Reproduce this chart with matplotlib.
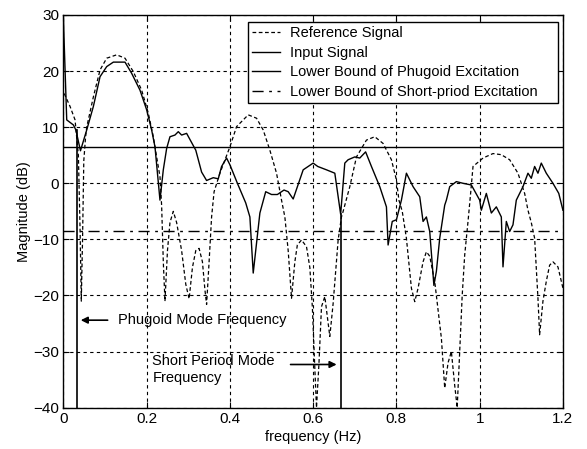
import matplotlib
matplotlib.use("Agg")
import matplotlib.pyplot as plt

# ---------------- data ----------------
ref_f = [0.002, 0.016, 0.028, 0.036, 0.040, 0.043, 0.046, 0.049, 0.053, 0.056,
         0.072, 0.088, 0.104, 0.128, 0.148, 0.168, 0.188, 0.204, 0.216, 0.224,
         0.232, 0.236, 0.240, 0.244, 0.250, 0.256, 0.264, 0.272, 0.284, 0.294,
         0.302, 0.310, 0.318, 0.326, 0.334, 0.340, 0.344, 0.350, 0.356, 0.362,
         0.376, 0.400, 0.416, 0.444, 0.464, 0.480, 0.496, 0.512, 0.524, 0.532,
         0.540, 0.548, 0.556, 0.562, 0.572, 0.584, 0.592, 0.598, 0.604, 0.608,
         0.614, 0.620, 0.628, 0.640, 0.648, 0.660, 0.668, 0.672, 0.688, 0.704,
         0.728, 0.748, 0.768, 0.788, 0.800, 0.806, 0.814, 0.824, 0.836, 0.844,
         0.852, 0.864, 0.872, 0.880, 0.892, 0.908, 0.916, 0.924, 0.932, 0.940,
         0.946, 0.952, 0.958, 0.964, 0.972, 0.978, 0.984, 1.008, 1.032, 1.052,
         1.072, 1.092, 1.108, 1.116, 1.124, 1.132, 1.140, 1.144, 1.152, 1.160,
         1.168, 1.176, 1.188, 1.200]
ref_db = [16.0, 13.7, 11.3, 5.0, -8.0, -21.0, -10.0, 4.0, 8.0, 10.0,
          15.4, 20.2, 22.3, 22.9, 22.3, 19.9, 16.6, 12.5, 8.3, 4.7,
          1.2, -4.0, -14.0, -21.0, -12.0, -7.0, -5.0, -7.0, -12.0, -18.0,
          -20.6, -15.0, -12.0, -11.6, -14.0, -19.0, -21.6, -14.0, -6.0, -1.5,
          1.8, 6.5, 10.1, 12.2, 11.6, 9.5, 5.9, 1.8, -3.0, -6.0,
          -12.0, -20.5, -14.0, -11.0, -10.1, -11.3, -15.0, -22.0, -33.0, -40.0,
          -32.0, -22.0, -20.2, -27.3, -21.4, -10.1, -6.0, -5.0, -0.6, 4.7,
          7.7, 8.3, 7.1, 4.2, 0.6, -3.0, -5.0, -9.8, -18.7, -21.1,
          -18.7, -14.0, -12.2, -13.0, -17.5, -27.6, -36.5, -32.0, -30.0, -36.0,
          -40.0, -30.0, -20.0, -12.8, -6.8, -2.0, 3.0, 4.5, 5.3, 5.1,
          4.2, 1.8, -1.8, -4.8, -7.0, -9.8, -20.5, -27.0, -21.0, -17.5,
          -14.6, -14.0, -14.9, -18.7]

inp_f = [0.000, 0.001, 0.008, 0.024, 0.030, 0.041, 0.056, 0.072, 0.088, 0.104,
         0.120, 0.148, 0.164, 0.184, 0.200, 0.212, 0.220, 0.232, 0.240, 0.248,
         0.256, 0.268, 0.276, 0.284, 0.296, 0.318, 0.332, 0.344, 0.360, 0.372,
         0.380, 0.392, 0.400, 0.418, 0.438, 0.448, 0.456, 0.472, 0.486, 0.500,
         0.514, 0.530, 0.540, 0.552, 0.576, 0.600, 0.611, 0.632, 0.652, 0.666,
         0.676, 0.684, 0.700, 0.712, 0.726, 0.740, 0.760, 0.776, 0.780, 0.790,
         0.800, 0.812, 0.824, 0.840, 0.856, 0.864, 0.872, 0.880, 0.890, 0.896,
         0.904, 0.916, 0.920, 0.928, 0.944, 0.960, 0.980, 1.000, 1.004, 1.016,
         1.028, 1.040, 1.052, 1.056, 1.064, 1.072, 1.080, 1.088, 1.104, 1.116,
         1.124, 1.132, 1.140, 1.148, 1.160, 1.176, 1.190, 1.200]
inp_db = [29.7, 27.0, 11.3, 10.4, 9.5, 5.8, 9.5, 13.7, 19.0, 20.8,
          21.6, 21.6, 19.6, 16.6, 13.1, 9.5, 6.5, -3.0, 2.4, 6.2,
          8.3, 8.6, 9.2, 8.6, 8.9, 5.9, 2.0, 0.5, 1.0, 0.8,
          3.0, 4.5, 3.3, 0.0, -3.5, -6.0, -16.0, -5.3, -1.5, -2.0,
          -2.0, -1.2, -1.5, -2.8, 2.4, 3.6, 3.0, 2.4, 1.8, -5.5,
          3.6, 4.2, 4.7, 4.5, 5.6, 3.0, -0.6, -4.2, -11.0, -6.8,
          -6.5, -3.0, 1.8, -0.6, -2.4, -6.8, -6.0, -8.6, -18.2, -15.7,
          -9.8, -3.9, -3.0, -0.6, 0.3, 0.0, -0.3, -3.0, -4.8, -1.8,
          -5.3, -4.2, -6.0, -14.9, -6.8, -8.6, -7.4, -3.0, -0.6, 1.8,
          0.9, 3.0, 1.8, 3.6, 1.8, 0.0, -1.8, -4.8]

phugoid_bound_db = 6.5
short_bound_db = -8.5
mode_freqs = [0.032, 0.666]
mode_tops = [9.5, -5.5]

legend_labels = ["Reference Signal", "Input Signal",
                 "Lower Bound of Phugoid Excitation",
                 "Lower Bound of Short-priod Excitation"]
xticks = [0, 0.2, 0.4, 0.6, 0.8, 1.0, 1.2]
xticklabels = ["0", "0.2", "0.4", "0.6", "0.8", "1", "1.2"]
yticks = [-40, -30, -20, -10, 0, 10, 20, 30]

# ---------------- plot ----------------
plt.rcParams['font.family'] = ['Liberation Sans', 'DejaVu Sans']
FS = 10.5

fig = plt.figure(figsize=(5.87, 4.49), dpi=100)
ax = fig.add_axes([0.108, 0.092, 0.851, 0.8746])

ax.plot(ref_f, ref_db, color='black', lw=0.9, ls=(0, (3, 2)), label=legend_labels[0])
ax.plot(inp_f, inp_db, color='black', lw=1.0, ls='-', label=legend_labels[1])
ax.axhline(phugoid_bound_db, color='black', lw=1.0, ls='-', label=legend_labels[2])
ax.axhline(short_bound_db, color='black', lw=1.0, ls=(0, (8, 4, 2, 4)), label=legend_labels[3])

for f, top in zip(mode_freqs, mode_tops):
    ax.plot([f, f], [-40, top], color='black', lw=1.2)

ax.set_xlim(0, 1.2)
ax.set_ylim(-40, 30)
ax.set_xticks(xticks)
ax.set_xticklabels(xticklabels)
ax.set_yticks(yticks)
ax.grid(True, color='black', ls=(0, (3, 3)), lw=0.8)
ax.tick_params(direction='in', top=True, right=True, length=4, labelsize=11, pad=3)
for s in ax.spines.values():
    s.set_linewidth(1.0)

ax.set_xlabel("frequency (Hz)", fontsize=FS, labelpad=3)
ax.set_ylabel("Magnitude (dB)", fontsize=FS, labelpad=2)

# annotations
ax.annotate('', xy=(mode_freqs[0] + 0.003, -24.4), xytext=(0.113, -24.4),
            arrowprops=dict(arrowstyle='-|>', color='black', lw=1.2, mutation_scale=10))
ax.text(0.131, -24.4, "Phugoid Mode Frequency", fontsize=FS, va='center', ha='left')
ax.annotate('', xy=(mode_freqs[1] - 0.003, -32.3), xytext=(0.539, -32.3),
            arrowprops=dict(arrowstyle='-|>', color='black', lw=1.2, mutation_scale=10))
ax.text(0.214, -30.5, "Short Period Mode\nFrequency", fontsize=FS, va='top', ha='left',
        linespacing=1.2)

leg = ax.legend(loc='upper left', bbox_to_anchor=(0.369, 0.0, 0.621, 0.982), mode='expand',
                borderaxespad=0, fontsize=FS, frameon=True, fancybox=False, framealpha=1,
                edgecolor='black', handlelength=1.9, handletextpad=0.7,
                labelspacing=0.37, borderpad=0.3)
leg.get_frame().set_linewidth(1.0)

fig.savefig("out.png", dpi=100)
